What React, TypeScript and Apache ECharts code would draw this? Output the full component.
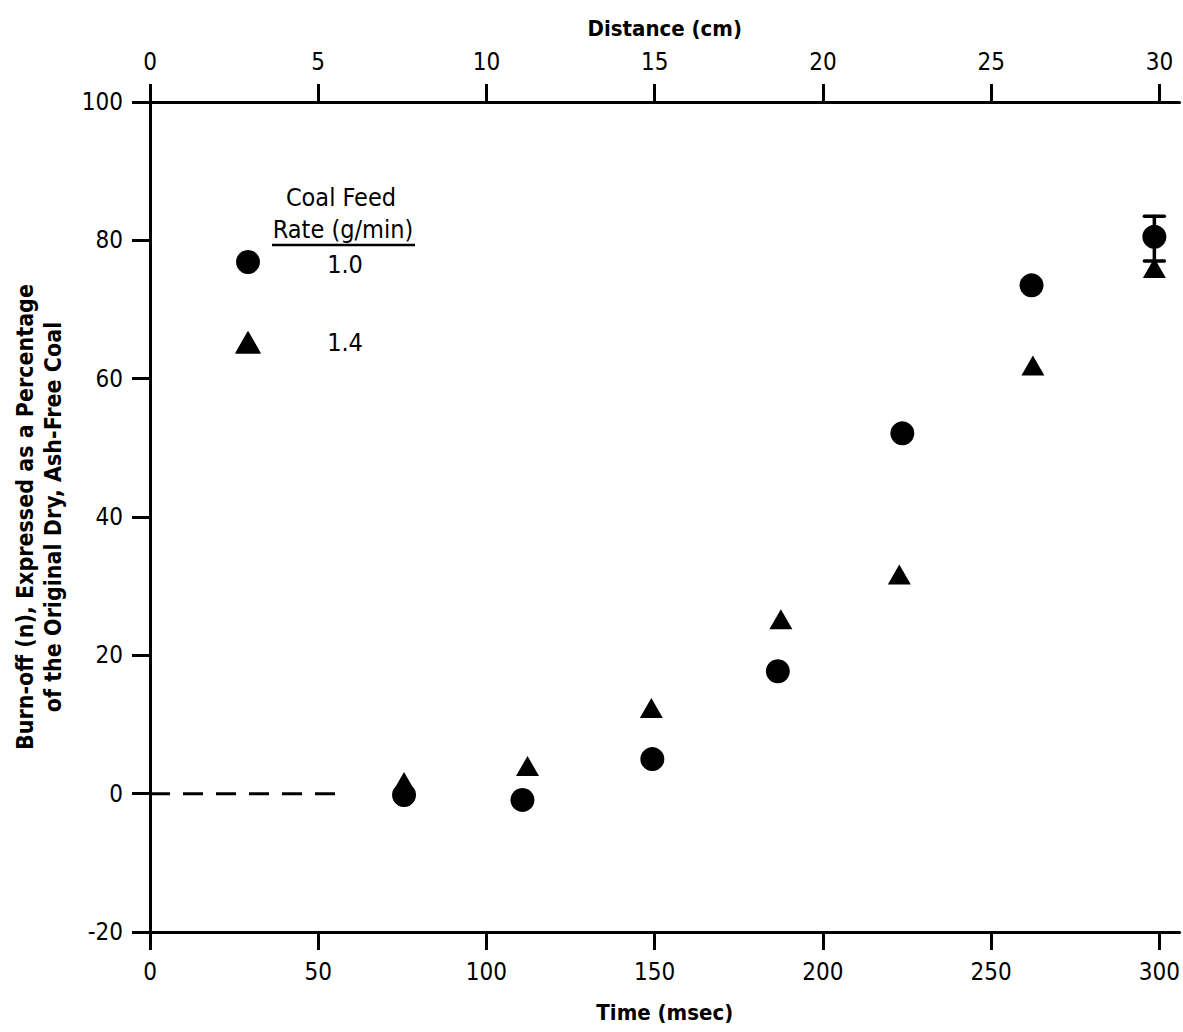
import React, { useEffect, useRef } from "react";
import * as echarts from "echarts";

// Burn-off measurements, coal feed rate 1.0 g/min (circles)
const timeFeed10 = [75.5, 110.7, 149.3, 186.6, 223.6, 262.0, 298.5];
const burnFeed10 = [-0.2, -0.9, 5.0, 17.7, 52.1, 73.5, 80.5];

// Burn-off measurements, coal feed rate 1.4 g/min (triangles)
const timeFeed14 = [75.5, 112.2, 149.0, 187.5, 222.7, 262.4, 298.5];
const burnFeed14 = [1.7, 4.0, 12.4, 25.2, 31.7, 61.9, 76.0];

// Error bar on the last 1.0 g/min point: [time, low, high]
const errorBars = [[298.5, 77.0, 83.5]];

// Zero-burn-off reference before the first sample
const zeroLine = [
  [0, 0],
  [56, 0],
];

const timeTicks = [0, 50, 100, 150, 200, 250, 300];
const distanceTicks = [0, 5, 10, 15, 20, 25, 30];

const legendTitle = ["Coal Feed", "Rate (g/min)"];
const legendRates = ["1.0", "1.4"];

const FONT = "'Liberation Sans Narrow', 'DejaVu Sans Condensed', sans-serif";
const INK = "#000";

export default function App() {
  const ref = useRef<HTMLDivElement>(null);

  useEffect(() => {
    if (!ref.current) return;
    const chart = echarts.init(ref.current, null, { renderer: "svg" });

    const axisLine = { show: true, onZero: false, lineStyle: { color: INK, width: 3 } };
    const tick = (values: number[]) => ({
      show: true,
      length: 18,
      inside: false,
      customValues: values,
      lineStyle: { color: INK, width: 3 },
    });
    const label = (values: number[], margin: number) => ({
      show: true,
      color: INK,
      fontFamily: FONT,
      fontSize: 24,
      margin,
      customValues: values,
    });

    chart.setOption({
      animation: false,
      backgroundColor: "#fff",
      grid: { left: 150, right: 0, top: 102, bottom: 100 },
      xAxis: [
        {
          type: "value",
          position: "bottom",
          min: 0,
          max: 306,
          interval: 50,
          name: "Time (msec)",
          nameLocation: "middle",
          nameGap: 69,
          nameTextStyle: { color: INK, fontFamily: FONT, fontSize: 22, fontWeight: "bold" },
          axisLine,
          axisTick: tick(timeTicks),
          axisLabel: label(timeTicks, 28),
          splitLine: { show: false },
        },
        {
          type: "value",
          position: "top",
          min: 0,
          max: 30.6,
          interval: 5,
          name: "Distance (cm)",
          nameLocation: "middle",
          nameGap: 63,
          nameTextStyle: { color: INK, fontFamily: FONT, fontSize: 22, fontWeight: "bold" },
          axisLine,
          axisTick: tick(distanceTicks),
          axisLabel: label(distanceTicks, 28),
          splitLine: { show: false },
        },
      ],
      yAxis: {
        type: "value",
        min: -20,
        max: 100,
        interval: 20,
        name: "Burn-off (n), Expressed as a Percentage\nof the Original Dry, Ash-Free Coal",
        nameLocation: "middle",
        nameGap: 83,
        nameTextStyle: {
          color: INK,
          fontFamily: FONT,
          fontSize: 23,
          fontWeight: "bold",
          lineHeight: 28,
        },
        axisLine,
        axisTick: { show: true, length: 18, lineStyle: { color: INK, width: 3 } },
        axisLabel: { color: INK, fontFamily: FONT, fontSize: 24, margin: 27 },
        splitLine: { show: false },
      },
      series: [
        {
          type: "line",
          data: zeroLine,
          symbol: "none",
          lineStyle: { color: INK, width: 3, type: [20, 13] },
          silent: true,
          z: 1,
        },
        {
          name: "1.4",
          type: "scatter",
          data: timeFeed14.map((t, i) => [t, burnFeed14[i]]),
          symbol: "triangle",
          symbolSize: [23, 20],
          itemStyle: { color: INK, opacity: 1 },
          z: 3,
        },
        {
          name: "1.0",
          type: "scatter",
          data: timeFeed10.map((t, i) => [t, burnFeed10[i]]),
          symbol: "circle",
          symbolSize: 24,
          itemStyle: { color: INK, opacity: 1 },
          z: 4,
        },
        {
          type: "custom",
          data: errorBars,
          z: 5,
          renderItem: (params: any, api: any) => {
            const low = api.coord([api.value(0), api.value(1)]);
            const high = api.coord([api.value(0), api.value(2)]);
            const half = 10;
            const style = { stroke: INK, lineWidth: 3.5, lineCap: "round" };
            return {
              type: "group",
              children: [
                { type: "line", shape: { x1: low[0], y1: low[1], x2: high[0], y2: high[1] }, style },
                { type: "line", shape: { x1: low[0] - half, y1: low[1], x2: low[0] + half, y2: low[1] }, style },
                { type: "line", shape: { x1: high[0] - half, y1: high[1], x2: high[0] + half, y2: high[1] }, style },
              ],
            };
          },
        },
      ],
      graphic: [
        {
          type: "text",
          x: 341,
          y: 197,
          style: {
            text: legendTitle[0],
            fill: INK,
            font: `25px ${FONT}`,
            align: "center",
            verticalAlign: "middle",
          },
        },
        {
          type: "text",
          x: 343,
          y: 229,
          style: {
            text: legendTitle[1],
            fill: INK,
            font: `25px ${FONT}`,
            align: "center",
            verticalAlign: "middle",
          },
        },
        {
          type: "line",
          shape: { x1: 272, y1: 245, x2: 415, y2: 245 },
          style: { stroke: INK, lineWidth: 2.5 },
        },
        {
          type: "circle",
          shape: { cx: 248, cy: 262, r: 12 },
          style: { fill: INK },
        },
        {
          type: "text",
          x: 345,
          y: 264,
          style: { text: legendRates[0], fill: INK, font: `25px ${FONT}`, align: "center", verticalAlign: "middle" },
        },
        {
          type: "polygon",
          shape: {
            points: [
              [248, 332],
              [260, 353],
              [236, 353],
            ],
          },
          style: { fill: INK, stroke: INK, lineWidth: 1.5, lineJoin: "round" },
        },
        {
          type: "text",
          x: 345,
          y: 342,
          style: { text: legendRates[1], fill: INK, font: `25px ${FONT}`, align: "center", verticalAlign: "middle" },
        },
      ],
    });

    return () => chart.dispose();
  }, []);

  return (
    <div
      ref={ref}
      style={{ position: "absolute", left: 0, top: 0, width: 1183, height: 1032, background: "#fff" }}
    />
  );
}
